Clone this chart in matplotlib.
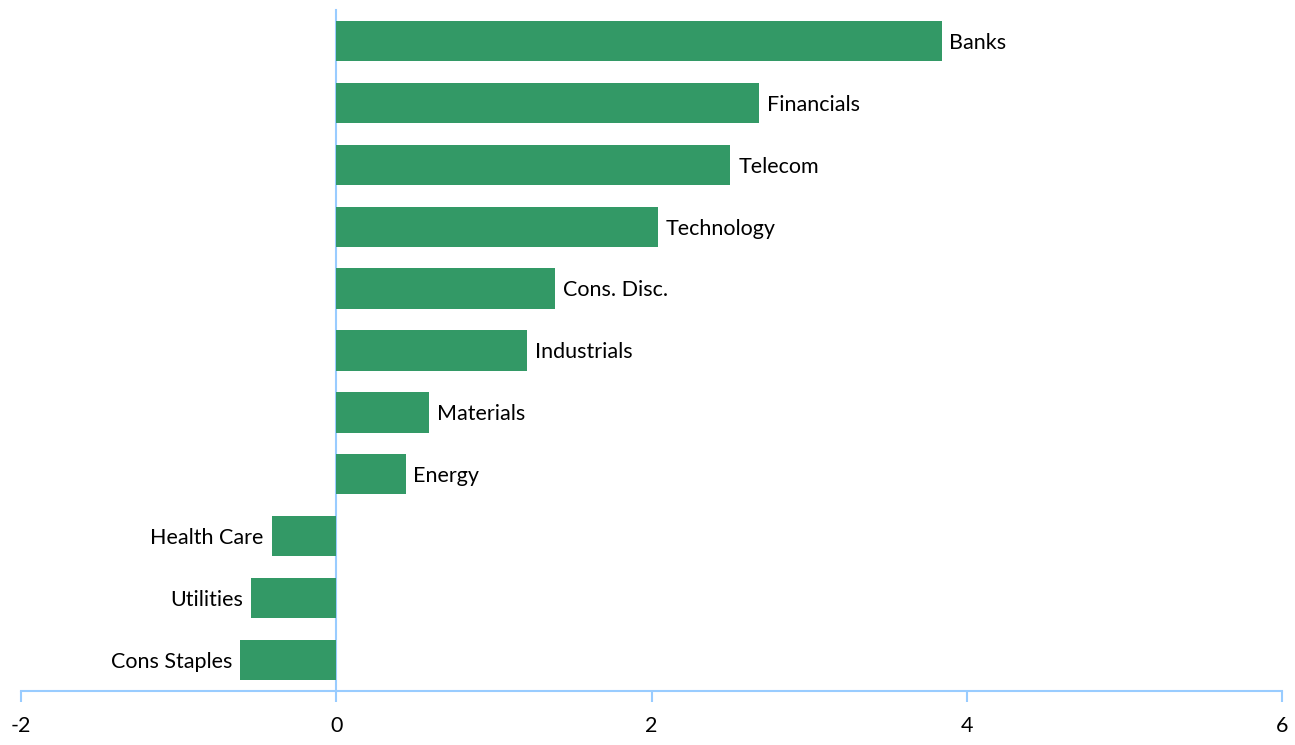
import matplotlib.pyplot as plt

# data (top to bottom)
sectors = ["Banks", "Financials", "Telecom", "Technology", "Cons. Disc.",
           "Industrials", "Materials", "Energy", "Health Care", "Utilities",
           "Cons Staples"]
values = [3.84, 2.68, 2.50, 2.04, 1.39, 1.21, 0.59, 0.44, -0.41, -0.54, -0.61]
xticks = [-2, 0, 2, 4, 6]

bar_color = "#339966"
axis_color = "#99ccff"
plt.rcParams['font.family'] = ['Lato', 'DejaVu Sans']

fig = plt.figure(figsize=(12.95, 7.45), dpi=100)
ax = fig.add_axes([21 / 1295, 54 / 745, 1261 / 1295, 681 / 745])

ypos = list(range(len(sectors)))[::-1]
ax.barh(ypos, values, height=0.65, color=bar_color, zorder=3)

for y, v, name in zip(ypos, values, sectors):
    if v >= 0:
        ax.text(v + 0.05, y - 0.03, name, va="center", ha="left", fontsize=15.5)
    else:
        ax.text(v - 0.05, y - 0.03, name, va="center", ha="right", fontsize=15.5)

ax.set_xlim(-2, 6)
ax.set_ylim(-0.5, len(sectors) - 0.5)
ax.set_xticks(xticks)
ax.set_xticklabels([str(t) for t in xticks], fontsize=15.5)
ax.set_yticks([])

for side in ["top", "right"]:
    ax.spines[side].set_visible(False)
ax.spines["left"].set_position(("data", 0))
ax.spines["left"].set_color(axis_color)
ax.spines["left"].set_linewidth(1.5)
ax.spines["bottom"].set_color(axis_color)
ax.spines["bottom"].set_linewidth(1.5)
ax.tick_params(axis="x", direction="out", length=8, width=1.5,
               color=axis_color, pad=10)

plt.savefig("out.png", dpi=100)
